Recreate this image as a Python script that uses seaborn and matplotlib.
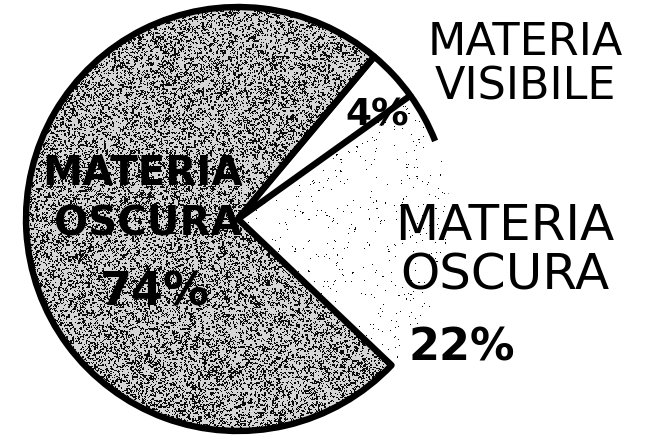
import numpy as np
import matplotlib
matplotlib.use("Agg")
import matplotlib.pyplot as plt
from matplotlib.patches import Wedge, Arc
import seaborn as sns

# Composition of the universe's matter
categories = ["MATERIA OSCURA", "MATERIA OSCURA", "MATERIA VISIBILE"]
shares = [74, 22, 4]
pct_labels = ["74%", "22%", "4%"]

sns.set_theme(style="white")
plt.rcParams["font.family"] = ["DejaVu Sans"]

W, H = 645, 436
fig = plt.figure(figsize=(W / 100, H / 100), dpi=100)
ax = fig.add_axes([0, 0, 1, 1])

# pie centre and radius in pixels -> data units of 1 per radius
cx, cy, R = 238, 219, 212
xlim = (-cx / R, (W - cx) / R)
ylim = (-(H - cy) / R, cy / R)

face = ["#d6d6d6", "#ffffff", "#ffffff"]
wedges, _ = ax.pie(shares, startangle=50, counterclock=True, colors=face,
                   radius=1, center=(0, 0),
                   wedgeprops=dict(linewidth=0, edgecolor="none", zorder=1))
ax.set_xlim(*xlim)
ax.set_ylim(*ylim)
ax.set_aspect("auto")
ax.axis("off")

# stippled print texture inside the slices
rng = np.random.default_rng(3)


def stipple(wedge, density):
    coarse = rng.random((H // 2 + 1, W // 2 + 1))
    fine = rng.random((H, W))
    field = np.repeat(np.repeat(coarse, 2, axis=0), 2, axis=1)[:H, :W]
    mask = (0.55 * field + 0.45 * fine) < density
    img = np.zeros((H, W, 4))
    img[..., 3] = mask * 0.95
    im = ax.imshow(img, extent=(*xlim, *ylim), origin="upper",
                   interpolation="nearest", zorder=2)
    im.set_clip_path(wedge)


stipple(wedges[0], 0.41)
stipple(wedges[1], 0.08)
ax.set_xlim(*xlim)
ax.set_ylim(*ylim)
ax.set_aspect("auto")

# black outlines around the large slice and the visible slice
for i in (0, 2):
    w = wedges[i]
    ax.add_patch(Wedge((0, 0), 1, w.theta1, w.theta2, fill=False,
                       ec="black", lw=4.6, joinstyle="round", zorder=3))

# the rim stroke runs on a little past the visible slice
w4 = wedges[2]
ax.add_patch(Arc((0, 0), 2, 2, theta1=w4.theta1 - 14, theta2=w4.theta1,
                 ec="black", lw=4.6, zorder=3))


def put(px, py, s, size, weight="normal", ha="center"):
    fig.text(px / W, 1 - py / H, s, fontsize=size, fontweight=weight,
             ha=ha, va="baseline", color="black", zorder=5)


m74, m22, m4 = categories[0].split(), categories[1].split(), categories[2].split()

# labels inside the large slice
put(143, 185, m74[0], 29, "bold")
put(148, 235, m74[1], 29, "bold")
put(155, 305, pct_labels[0], 33, "bold")

# small slice
put(377, 125, pct_labels[2], 27, "bold")
put(525, 55, m4[0], 32)
put(525, 100, m4[1], 32)

# remaining dark matter
put(505, 240, m22[0], 36)
put(505, 290, m22[1], 36)
put(462, 360, pct_labels[1], 32, "bold")

fig.savefig("out.png", dpi=100)
